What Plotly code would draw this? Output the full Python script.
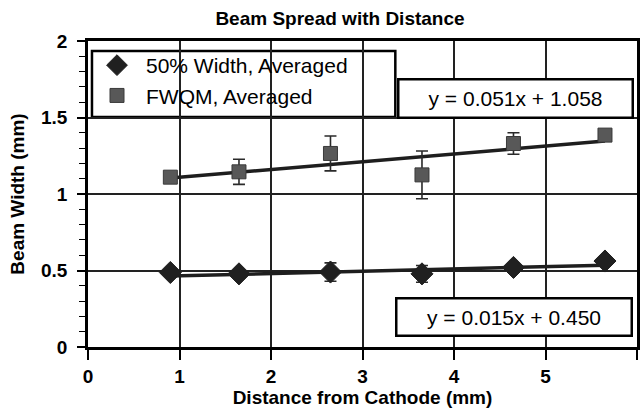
import plotly.graph_objects as go

# ---- data ----
x_fwqm = [0.9, 1.65, 2.65, 3.65, 4.65, 5.65]
y_fwqm = [1.11, 1.145, 1.265, 1.125, 1.33, 1.385]
e_fwqm = [0.02, 0.082, 0.114, 0.156, 0.07, 0.03]

x_half = [0.9, 1.65, 2.65, 3.65, 4.65, 5.65]
y_half = [0.487, 0.478, 0.49, 0.478, 0.52, 0.562]
e_half = [0.015, 0.015, 0.06, 0.055, 0.015, 0.015]

fit_fwqm = (0.051, 1.058)
fit_half = (0.015, 0.450)

x_ticks = [0, 1, 2, 3, 4, 5, 6]
y_ticks = [0, 0.5, 1, 1.5, 2]
y_tick_labels = ["0", "0.5", "1", "1.5", "2"]

FONT = "Liberation Sans"

fig = go.Figure()

# trendlines
for xs, (m, b) in [(x_fwqm, fit_fwqm), (x_half, fit_half)]:
    xl = [xs[0], xs[-1]]
    fig.add_trace(go.Scatter(x=xl, y=[m * v + b for v in xl], mode="lines",
                             line=dict(color="#1e1e1e", width=3.5),
                             showlegend=False, hoverinfo="skip"))

fig.add_trace(go.Scatter(
    x=x_half, y=y_half, mode="markers", name="50% Width, Averaged",
    legendgroup="a",
    marker=dict(symbol="diamond", size=17, color="#202020",
                line=dict(color="#202020", width=1)),
    error_y=dict(type="data", array=e_half, visible=True,
                 color="#2a2a2a", thickness=1.6, width=6)))

fig.add_trace(go.Scatter(
    x=x_fwqm, y=y_fwqm, mode="markers", name="FWQM, Averaged",
    legendgroup="b",
    marker=dict(symbol="square", size=14, color="#585858",
                line=dict(color="#3a3a3a", width=1)),
    error_y=dict(type="data", array=e_fwqm, visible=True,
                 color="#2a2a2a", thickness=1.6, width=6)))

L, R, T, B = 88, 2, 41, 67
W, H = 642, 414
pw, ph = W - L - R, H - T - B

def px_x(p):
    return (p - L) / pw

def px_y(p):
    return (H - B - p) / ph

fig.update_layout(
    width=W, height=H,
    margin=dict(l=L, r=R, t=T, b=B),
    paper_bgcolor="white", plot_bgcolor="white",
    font=dict(family=FONT, color="black"),
    title=dict(text="<b>Beam Spread with Distance</b>",
               font=dict(family=FONT, size=19, color="black"),
               x=340 / W, xanchor="center", xref="container",
               y=1 - 18 / H, yanchor="middle", yref="container"),
    showlegend=True,
    legend=dict(x=px_x(88), y=px_y(45), xanchor="left", yanchor="top",
                bgcolor="rgba(0,0,0,0)", borderwidth=0,
                font=dict(family=FONT, size=21, color="black"),
                itemwidth=48, tracegroupgap=5, traceorder="normal"),
    xaxis=dict(range=[0, 6], tickvals=x_ticks, ticktext=[str(v) for v in x_ticks],
               showgrid=True, gridcolor="#222", gridwidth=1.5,
               showline=True, linecolor="black", linewidth=2.5, mirror=True,
               ticks="outside", ticklen=10, tickwidth=1.5, tickcolor="black",
               ticklabelstandoff=0,
               tickfont=dict(family=FONT, size=19, color="black", weight="bold"),
               zeroline=False,
               title=dict(text="<b>Distance from Cathode (mm)</b>",
                          font=dict(family=FONT, size=19, color="black"),
                          standoff=3)),
    yaxis=dict(range=[0, 2], tickvals=y_ticks, ticktext=y_tick_labels,
               showgrid=True, gridcolor="#222", gridwidth=1.5,
               showline=True, linecolor="black", linewidth=2.5, mirror=True,
               ticks="outside", ticklen=8, tickwidth=1.5, tickcolor="black",
               ticklabelstandoff=6,
               tickfont=dict(family=FONT, size=19, color="black", weight="bold"),
               minor=dict(dtick=0.1, ticks="outside", ticklen=6,
                          tickcolor="black", tickwidth=1.2, showgrid=False),
               zeroline=False,
               title=dict(text="<b>Beam Width (mm)</b>",
                          font=dict(family=FONT, size=19, color="black"),
                          standoff=12)),
    shapes=[dict(type="rect", xref="paper", yref="paper",
                 x0=px_x(92), x1=px_x(397), y0=px_y(117), y1=px_y(51),
                 line=dict(color="black", width=2.5), fillcolor="white",
                 layer="between")],
    annotations=[
        dict(text="y = 0.051x + 1.058", x=(518 - L) / 92, y=(H - B - 98) / 153,
             xref="x", yref="y", showarrow=False,
             font=dict(family=FONT, size=21, color="black"),
             bgcolor="white", bordercolor="black", borderwidth=2.5,
             borderpad=2, width=228, height=32),
        dict(text="y = 0.015x + 0.450", x=(516.5 - L) / 92, y=(H - B - 316.5) / 153,
             xref="x", yref="y", showarrow=False,
             font=dict(family=FONT, size=21, color="black"),
             bgcolor="white", bordercolor="black", borderwidth=2.5,
             borderpad=2, width=229, height=31),
    ],
)

fig.write_html("out.html")
